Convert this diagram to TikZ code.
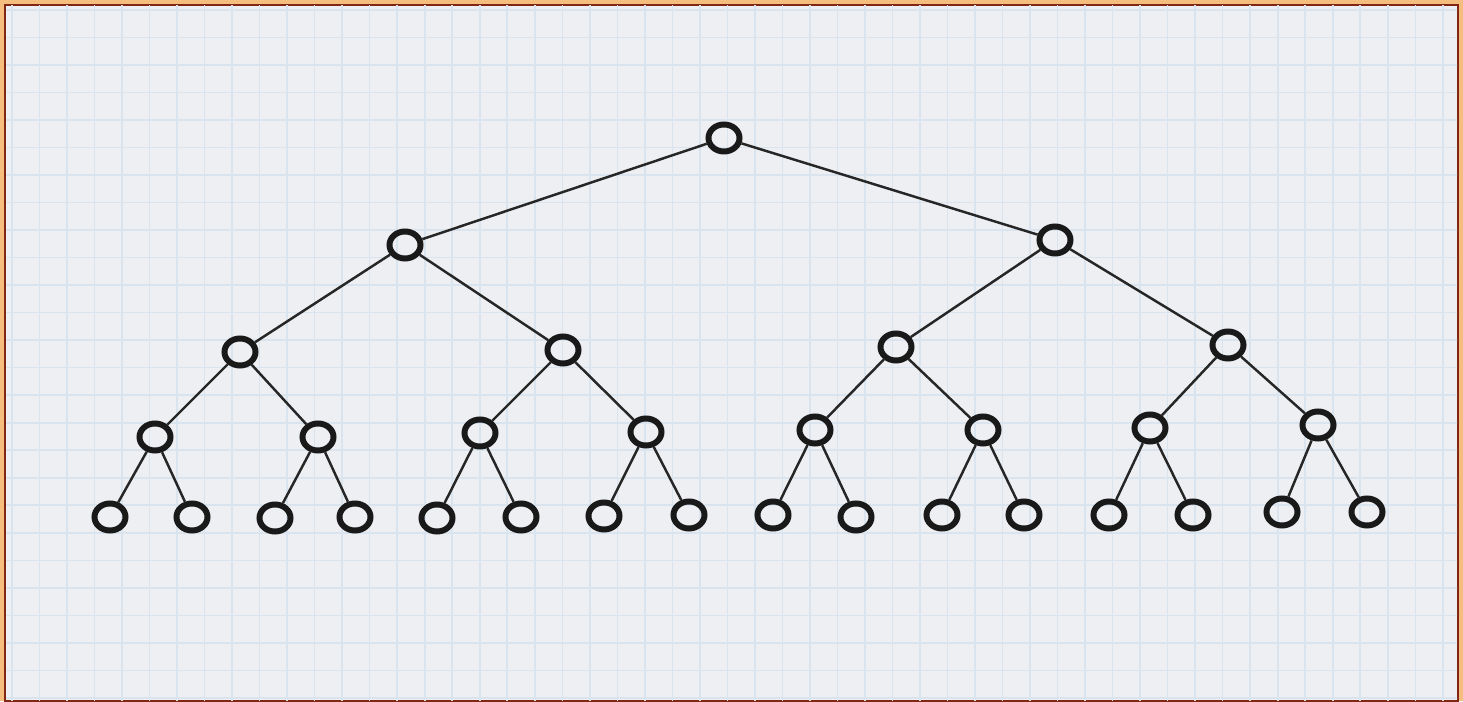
\documentclass[tikz,border=0pt]{standalone}
\usepackage{tikz}
\usetikzlibrary{shapes.geometric, arrows}
\definecolor{frame}{HTML}{F6BE7E}
\definecolor{paper}{HTML}{EDEFF2}
\definecolor{gridline}{HTML}{D9E4EE}
\tikzstyle{knot} = [ellipse, minimum width=0.31cm, minimum height=0.27cm, inner sep=0pt, draw=black!90, line width=1.7pt]
\tikzstyle{edge} = [line width=0.7pt, black!85]

\begin{document}
\begin{tikzpicture}[x=0.01cm, y=-0.01cm]
			% paper and frame
			\fill[frame] (0,0) rectangle (1463,701);
			\fill[paper, draw=black!60!red!70!brown, line width=0.5pt] (5,5) rectangle (1458,701);
			\begin{scope}
				\clip (6,6) rectangle (1457,701);
				\draw[gridline, line width=0.45pt, xshift=0.12cm, yshift=-0.1cm] (-30,-30) grid[step=0.275cm] (1500,740);
			\end{scope}
			
			% the tree
			\node[knot] (1) at (724,138) {};
			\node[knot] (2) at (405,245) {};
			\node[knot] (3) at (1055,240) {};
			\node[knot] (4) at (240,352) {};
			\node[knot] (5) at (563,350) {};
			\node[knot] (6) at (896,347) {};
			\node[knot] (7) at (1228,345) {};
			\node[knot] (8) at (155,437) {};
			\node[knot] (9) at (318,437) {};
			\node[knot] (10) at (480,433) {};
			\node[knot] (11) at (646,432) {};
			\node[knot] (12) at (815,430) {};
			\node[knot] (13) at (983,430) {};
			\node[knot] (14) at (1150,428) {};
			\node[knot] (15) at (1318,425) {};
			\node[knot] (16) at (110,517) {};
			\node[knot] (17) at (192,517) {};
			\node[knot] (18) at (275,518) {};
			\node[knot] (19) at (355,517) {};
			\node[knot] (20) at (437,518) {};
			\node[knot] (21) at (521,517) {};
			\node[knot] (22) at (604,516) {};
			\node[knot] (23) at (689,515) {};
			\node[knot] (24) at (773,515) {};
			\node[knot] (25) at (856,517) {};
			\node[knot] (26) at (942,515) {};
			\node[knot] (27) at (1024,515) {};
			\node[knot] (28) at (1109,515) {};
			\node[knot] (29) at (1193,515) {};
			\node[knot] (30) at (1282,512) {};
			\node[knot] (31) at (1367,512) {};
			
			\foreach \c [evaluate=\c as \p using {int(\c/2)}] in {2,...,31}
				\draw [edge] (\p) -- (\c);
			
		\end{tikzpicture}
\end{document}
